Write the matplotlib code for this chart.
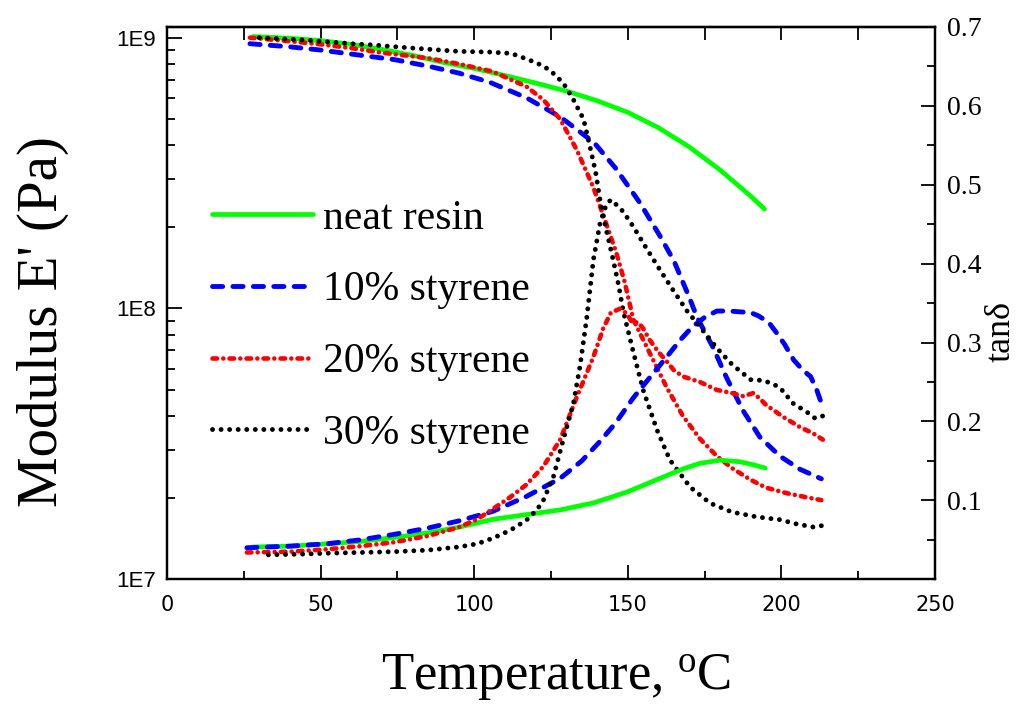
import matplotlib
matplotlib.use("Agg")
import matplotlib.pyplot as plt
from matplotlib.ticker import MultipleLocator, LogLocator, FixedLocator, NullFormatter, FixedFormatter

# ---------------- data ----------------
# Storage modulus E' (Pa) vs temperature (C)
t_mod_neat = [28, 40, 50, 60, 70, 80, 90, 100, 110, 120, 130, 140, 150, 160, 170, 180, 190, 194.5]
e_mod_neat = [1.01e9, 9.95e8, 9.75e8, 9.45e8, 9.05e8, 8.6e8, 8.1e8, 7.7e8, 7.25e8, 6.8e8, 6.35e8,
              5.85e8, 5.3e8, 4.65e8, 3.95e8, 3.25e8, 2.6e8, 2.33e8]

t_mod_10 = [27, 40, 50, 60, 74, 85, 95, 105, 117, 128, 139, 146, 154, 160.5, 165, 170, 172.5,
            177.7, 182, 187.5, 193, 199.5, 206, 213]
e_mod_10 = [9.5e8, 9.25e8, 9.0e8, 8.7e8, 8.3e8, 7.85e8, 7.4e8, 6.85e8, 6.0e8, 5.1e8, 4.1e8, 3.3e8,
            2.45e8, 1.85e8, 1.5e8, 1.1e8, 9.3e7, 7.2e7, 5.6e7, 4.2e7, 3.35e7, 2.85e7, 2.55e7, 2.35e7]

t_mod_20 = [27, 40, 50, 60, 70, 85, 95, 106, 117, 122.5, 128, 133.4, 138.8, 143, 146.3, 149, 151.8,
            157, 162.7, 168, 173.5, 179, 184, 190, 195, 201.7, 208, 213]
e_mod_20 = [1.0e9, 9.7e8, 9.45e8, 9.15e8, 8.8e8, 8.4e8, 8.0e8, 7.5e8, 6.6e8, 5.9e8, 5.0e8, 3.85e8,
            2.8e8, 2.05e8, 1.6e8, 1.25e8, 9.1e7, 6.9e7, 5.1e7, 4.0e7, 3.3e7, 2.85e7, 2.57e7, 2.33e7,
            2.18e7, 2.08e7, 2.01e7, 1.96e7]

t_mod_30 = [30, 45, 60, 67, 80, 95, 105, 112, 117, 121, 124.6, 129, 132.3, 135.6, 137.7, 139.5, 141,
            143, 145.3, 147, 148.5, 151.8, 155, 159.5, 163.7, 170.3, 176.8, 184, 192, 199.5, 205,
            210.3, 213.5]
e_mod_30 = [1.0e9, 9.8e8, 9.5e8, 9.4e8, 9.15e8, 8.9e8, 8.85e8, 8.75e8, 8.35e8, 8.0e8, 7.6e8, 6.8e8,
            5.9e8, 5.0e8, 3.95e8, 3.2e8, 2.5e8, 1.95e8, 1.5e8, 1.22e8, 9.8e7, 6.9e7, 5.0e7, 3.56e7,
            2.76e7, 2.19e7, 1.91e7, 1.77e7, 1.70e7, 1.66e7, 1.60e7, 1.56e7, 1.58e7]

# tan delta vs temperature (C)
t_tan_neat = [28, 40, 52, 63, 74, 85, 95, 106, 117, 128, 139, 150, 160.5, 168, 173.5, 180, 186.5, 191, 194.7]
tan_neat = [0.041, 0.042, 0.045, 0.048, 0.053, 0.059, 0.066, 0.076, 0.082, 0.088, 0.097, 0.111,
            0.128, 0.140, 0.147, 0.151, 0.149, 0.145, 0.141]

t_tan_10 = [26, 40, 52, 63, 74, 85, 95, 106, 117, 128, 135, 141, 146, 151.8, 157, 162.7, 167, 171,
            175, 179, 183, 186.5, 190, 192.5, 196, 198.5, 201, 204, 207, 209.5, 211.5, 213.5]
tan_10 = [0.040, 0.042, 0.045, 0.050, 0.057, 0.065, 0.074, 0.086, 0.105, 0.128, 0.150, 0.175, 0.198,
          0.230, 0.255, 0.282, 0.303, 0.320, 0.332, 0.340, 0.340, 0.339, 0.338, 0.334, 0.325, 0.312,
          0.298, 0.278, 0.265, 0.257, 0.240, 0.218]

t_tan_20 = [26, 40, 52, 63, 74, 85, 95, 101, 106, 111.7, 117, 122.5, 128, 133.4, 138.8, 142, 144.5,
            147.5, 149.6, 151.5, 153.3, 155, 157, 160, 162.7, 165, 168, 173.5, 179, 184, 187.6,
            190.8, 193, 195, 200.5, 206, 210.3, 213.5]
tan_20 = [0.034, 0.035, 0.038, 0.042, 0.047, 0.055, 0.066, 0.076, 0.089, 0.104, 0.120, 0.143, 0.177,
          0.231, 0.282, 0.318, 0.338, 0.343, 0.337, 0.325, 0.326, 0.318, 0.304, 0.288, 0.276, 0.265,
          0.257, 0.250, 0.240, 0.236, 0.232, 0.236, 0.229, 0.221, 0.206, 0.193, 0.185, 0.177]

t_tan_30 = [33, 45, 52, 63, 74, 85, 95, 101, 106, 111.7, 117, 120.4, 122.5, 125.8, 129, 132.3, 134.4,
            136.6, 138.8, 141, 143, 144.5, 146.5, 148.5, 151.8, 156.3, 160.5, 165, 169.3, 173.5, 179,
            184, 190, 194, 197, 199.5, 203.8, 208.3, 211, 213.5]
tan_30 = [0.031, 0.032, 0.033, 0.034, 0.035, 0.037, 0.041, 0.045, 0.052, 0.062, 0.075, 0.088, 0.100,
          0.130, 0.177, 0.223, 0.269, 0.330, 0.405, 0.452, 0.475, 0.481, 0.474, 0.466, 0.447, 0.418,
          0.392, 0.365, 0.340, 0.320, 0.293, 0.272, 0.253, 0.252, 0.248, 0.243, 0.223, 0.212, 0.204,
          0.207]

labels = ["neat resin", "10% styrene", "20% styrene", "30% styrene"]
x_ticks = [0, 50, 100, 150, 200, 250]
mod_tick_labels = ["1E7", "1E8", "1E9"]
tan_ticks = [0.1, 0.2, 0.3, 0.4, 0.5, 0.6, 0.7]

# ---------------- style ----------------
SERIF = "Liberation Serif"
SANS = "Liberation Sans"
plt.rcParams["mathtext.fontset"] = "custom"
plt.rcParams["mathtext.rm"] = SERIF
plt.rcParams["mathtext.it"] = SERIF + ":italic"

styles = [
    dict(color="#00ff00", lw=3.4, ls="-", solid_capstyle="round"),
    dict(color="#0000ff", lw=3.5, ls=(0, (2.1, 2.1)), dash_capstyle="round"),
    dict(color="#ff0000", lw=3.3, ls=(0, (1.0, 1.35, 0.01, 1.35)), dash_capstyle="round"),
    dict(color="#000000", lw=3.5, ls=(0, (0.01, 1.75)), dash_capstyle="round"),
]

W, H = 1019, 705
fig = plt.figure(figsize=(W / 100, H / 100), dpi=100)
L, R, B, T = 167, 935, 579.3, 27
ax = fig.add_axes([L / W, 1 - B / H, (R - L) / W, (B - T) / H])
ax2 = ax.twinx()

mods = [(t_mod_neat, e_mod_neat), (t_mod_10, e_mod_10), (t_mod_20, e_mod_20), (t_mod_30, e_mod_30)]
tans = [(t_tan_neat, tan_neat), (t_tan_10, tan_10), (t_tan_20, tan_20), (t_tan_30, tan_30)]

handles = []
for (tm, em), st, lab in zip(mods, styles, labels):
    h, = ax.plot(tm, em, label=lab, **st)
    handles.append(h)
for (tt, tv), st in zip(tans, styles):
    ax2.plot(tt, tv, **st)

ax.set_yscale("log")
ax.set_xlim(0, 250)
ax.set_ylim(1e7, 1.095e9)
ax2.set_ylim(0, 0.7)

# x ticks
ax.xaxis.set_major_locator(FixedLocator(x_ticks))
ax.xaxis.set_major_formatter(FixedFormatter([str(v) for v in x_ticks]))
ax.xaxis.set_minor_locator(MultipleLocator(25))

# top ticks (all same length)
sec = ax.secondary_xaxis("top")
sec.xaxis.set_major_locator(MultipleLocator(25))
sec.tick_params(direction="in", length=9, width=1.3, labeltop=False)
sec.spines["top"].set_linewidth(1.6)

# left log axis
ax.yaxis.set_major_locator(FixedLocator([1e7, 1e8, 1e9]))
ax.yaxis.set_major_formatter(FixedFormatter(mod_tick_labels))
ax.yaxis.set_minor_locator(LogLocator(base=10, subs=range(2, 10)))
ax.yaxis.set_minor_formatter(NullFormatter())

# right tan axis
ax2.yaxis.set_major_locator(FixedLocator(tan_ticks))
ax2.yaxis.set_minor_locator(MultipleLocator(0.05))

ax.tick_params(axis="x", which="major", direction="in", length=10, width=1.3, pad=11, top=False,
               labelsize=15, labelfontfamily="Liberation Sans Narrow")
ax.tick_params(axis="x", which="minor", direction="in", length=6, width=1.3, top=False)
ax.tick_params(axis="y", which="major", direction="in", length=11, width=1.3, pad=8, right=False,
               labelsize=16, labelfontfamily=SANS)
ax.tick_params(axis="y", which="minor", direction="in", length=6, width=1.3, right=False)
ax2.tick_params(axis="y", which="major", direction="in", length=10, width=1.3, pad=9, labelsize=20,
                labelfontfamily=SERIF)
ax2.tick_params(axis="y", which="minor", direction="in", length=6, width=1.3)

for a in (ax, ax2):
    for s in a.spines.values():
        s.set_linewidth(1.6)

# axis titles
fig.text(43 / W, 1 - 322 / H, "Modulus E' (Pa)", rotation=90, ha="center", va="center",
         fontsize=41, family=SERIF)
fig.text(556 / W, 1 - 677 / H, r"Temperature, $^{\mathrm{o}}$C", ha="center", va="center",
         fontsize=38, family=SERIF)
fig.text(1001 / W, 1 - 331 / H, "tan\u03b4", rotation=90, ha="center", va="center",
         fontsize=26, family=SERIF)

leg = ax2.legend(handles, labels, loc="upper left",
                 bbox_to_anchor=(212 / W, 1 - 199 / H), bbox_transform=fig.transFigure,
                 frameon=False, prop={"family": SERIF, "size": 30},
                 handlelength=2.42, handletextpad=0.25, labelspacing=0.8,
                 borderpad=0, borderaxespad=0)

fig.savefig("out.png", dpi=100)
